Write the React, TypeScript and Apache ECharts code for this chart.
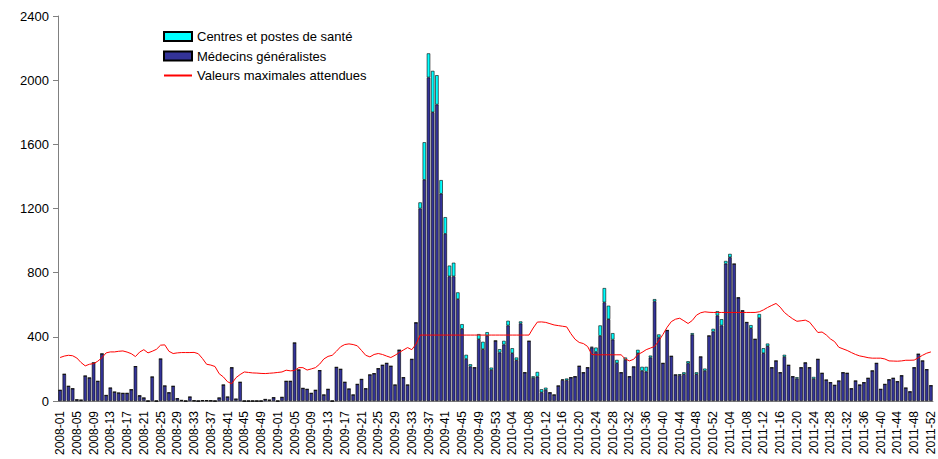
import React, { useEffect, useRef } from "react";
import * as echarts from "echarts";

const years = [2008, 2009, 2010, 2011];
const weeksPerYear = [52, 53, 52, 52];

const categories: string[] = [];
years.forEach((y, k) => {
  for (let w = 1; w <= weeksPerYear[k]; w++) {
    categories.push(`${y}-${w < 10 ? "0" + w : w}`);
  }
});

// Médecins généralistes
const medecins2008 = [
  67, 167, 92, 77, 8, 6, 156, 144, 238, 123, 294, 35, 81,
  56, 50, 48, 48, 71, 215, 33, 19, 0, 150, 0, 262, 94,
  52, 92, 15, 4, 0, 25, 2, 0, 3, 3, 2, 0, 19,
  100, 25, 208, 12, 117, 0, 0, 0, 0, 0, 10, 6, 21,
];
const medecins2009 = [
  0, 23, 123, 123, 362, 194, 79, 73, 48, 67, 190, 38, 73,
  0, 210, 198, 117, 75, 38, 104, 135, 77, 163, 171, 202, 223,
  235, 217, 100, 317, 146, 100, 260, 488, 1200, 1379, 2017, 1800, 1848,
  1292, 1042, 777, 777, 635, 450, 262, 215, 208, 385, 323, 406, 194,
  375,
];
const medecins2010 = [
  302, 352, 471, 298, 254, 483, 177, 373, 144, 152, 54, 69, 52,
  38, 94, 131, 129, 146, 152, 217, 177, 208, 333, 306, 406, 615,
  510, 383, 236, 177, 256, 152, 213, 298, 188, 183, 271, 621, 396,
  235, 440, 279, 163, 160, 167, 235, 413, 167, 275, 188, 406, 433,
];
const medecins2011 = [
  533, 471, 856, 896, 854, 644, 563, 490, 454, 385, 517, 298, 342,
  208, 250, 177, 275, 223, 152, 140, 208, 238, 208, 138, 260, 173,
  131, 115, 98, 125, 177, 173, 77, 125, 100, 115, 142, 188, 235,
  73, 104, 133, 142, 121, 158, 81, 58, 208, 292, 250, 196, 96,
];

// Centres et postes de santé
const centres2008 = new Array(52).fill(0);
const centres2009 = [
  0, 0, 0, 0, 0, 0, 0, 0, 0, 0, 0, 0, 0,
  0, 0, 0, 0, 0, 0, 0, 0, 0, 0, 0, 0, 0,
  0, 0, 0, 0, 0, 0, 0, 0, 38, 234, 150, 258, 183,
  85, 104, 67, 85, 42, 29, 26, 14, 0, 32, 46, 23, 14,
  0,
];
const centres2010 = [
  21, 23, 29, 31, 17, 13, 0, 0, 10, 29, 19, 14, 0,
  0, 0, 4, 11, 0, 0, 0, 0, 0, 5, 27, 65, 89,
  84, 40, 20, 0, 15, 0, 0, 21, 25, 30, 12, 14, 19,
  0, 0, 0, 0, 7, 12, 13, 10, 12, 0, 14, 0, 17,
];
const centres2011 = [
  27, 39, 17, 21, 0, 0, 0, 0, 19, 0, 25, 31, 16,
  0, 0, 0, 13, 0, 0, 8, 0, 0, 0, 12, 0, 0,
  0, 0, 0, 0, 0, 0, 0, 0, 0, 0, 0, 0, 0,
  0, 0, 0, 0, 0, 0, 0, 0, 0, 0, 0, 0, 0,
];

// Valeurs maximales attendues
const seuil2008 = [
  271, 280, 285, 282, 268, 240, 219, 229, 233, 248, 270, 300, 306,
  306, 310, 312, 305, 295, 277, 305, 320, 300, 310, 322, 348, 350,
  310, 296, 300, 302, 302, 302, 303, 295, 265, 229, 224, 215, 170,
  150, 120, 108, 145, 165, 181, 178, 175, 174, 172, 171, 173, 175,
];
const seuil2009 = [
  178, 181, 192, 188, 190, 208, 208, 193, 200, 208, 230, 262, 278,
  285, 310, 338, 352, 356, 352, 344, 315, 285, 275, 290, 296, 290,
  280, 271, 285, 302, 318, 333, 320, 354, 411, 411, 411, 411, 411,
  411, 411, 411, 411, 411, 411, 411, 411, 411, 411, 411, 411, 411,
  411,
];
const seuil2010 = [
  411, 411, 411, 411, 411, 411, 411, 411, 455, 492, 493, 490, 482,
  474, 470, 466, 462, 420, 385, 365, 358, 340, 290, 288, 288, 288,
  288, 288, 288, 288, 262, 250, 260, 290, 303, 320, 330, 340, 375,
  415, 460, 495, 510, 516, 500, 483, 502, 535, 550, 556, 553, 552,
];
const seuil2011 = [
  552, 552, 552, 552, 552, 552, 552, 552, 552, 552, 556, 568, 583,
  596, 608, 585, 552, 531, 512, 497, 500, 504, 492, 460, 427, 430,
  412, 387, 370, 335, 325, 315, 302, 290, 281, 276, 270, 267, 267,
  267, 262, 250, 249, 248, 250, 254, 254, 255, 270, 285, 298, 306,
];

const yTicks = [0, 400, 800, 1200, 1600, 2000, 2400];

const medecins = [...medecins2008, ...medecins2009, ...medecins2010, ...medecins2011];
const centres = [...centres2008, ...centres2009, ...centres2010, ...centres2011];
const seuil = [...seuil2008, ...seuil2009, ...seuil2010, ...seuil2011];

const FONT = "'Liberation Sans', Arial, sans-serif";

export default function App() {
  const ref = useRef<HTMLDivElement>(null);
  useEffect(() => {
    if (!ref.current) return;
    const chart = echarts.init(ref.current, undefined, { renderer: "svg" });
    chart.setOption({
      animation: false,
      backgroundColor: "#ffffff",
      textStyle: { fontFamily: FONT },
      grid: { left: 58, right: 5, top: 16, bottom: 58, outerBoundsMode: "none" },
      legend: {
        orient: "vertical",
        left: 158,
        top: 25,
        itemWidth: 28,
        itemHeight: 9,
        itemGap: 6.5,
        textStyle: { fontFamily: FONT, fontSize: 13, color: "#000" },
        data: [
          { name: "Centres et postes de santé", icon: "rect" },
          { name: "Médecins généralistes", icon: "rect" },
          {
            name: "Valeurs maximales attendues",
            itemStyle: { color: "rgba(0,0,0,0)", borderColor: "rgba(0,0,0,0)", borderWidth: 0, opacity: 0 },
          },
        ],
      },
      xAxis: {
        type: "category",
        data: categories,
        axisLine: { lineStyle: { color: "#808080", width: 1 } },
        axisTick: { interval: 0, length: 4, lineStyle: { color: "#808080" } },
        axisLabel: {
          interval: 3,
          rotate: 90,
          fontSize: 12,
          lineHeight: 12,
          fontFamily: FONT,
          color: "#000",
          margin: 10,
        },
        splitLine: { show: false },
      },
      yAxis: {
        type: "value",
        min: yTicks[0],
        max: yTicks[yTicks.length - 1],
        interval: 400,
        axisLine: { show: true, lineStyle: { color: "#808080", width: 1 } },
        axisTick: { show: true, length: 5, lineStyle: { color: "#808080" } },
        axisLabel: {
          fontSize: 13,
          fontFamily: FONT,
          color: "#000",
          margin: 9,
          formatter: (v: number) => String(v),
        },
        splitLine: { show: false },
      },
      series: [
        {
          name: "Médecins généralistes",
          type: "bar",
          stack: "total",
          data: medecins,
          barCategoryGap: "18%",
          itemStyle: { color: "#333399", borderColor: "#000", borderWidth: 0.6 },
        },
        {
          name: "Centres et postes de santé",
          type: "bar",
          stack: "total",
          data: centres,
          itemStyle: { color: "#00FFFF", borderColor: "#000", borderWidth: 0.6 },
        },
        {
          name: "Valeurs maximales attendues",
          type: "line",
          data: seuil,
          symbol: "none",
          showSymbol: false,
          z: 5,
          lineStyle: { color: "#FF0000", width: 1 },
          itemStyle: { color: "#FF0000" },
        },
      ],
    });
    return () => chart.dispose();
  }, []);
  return (
    <div
      ref={ref}
      style={{ position: "fixed", left: 0, top: 0, width: 938, height: 459 }}
    />
  );
}
